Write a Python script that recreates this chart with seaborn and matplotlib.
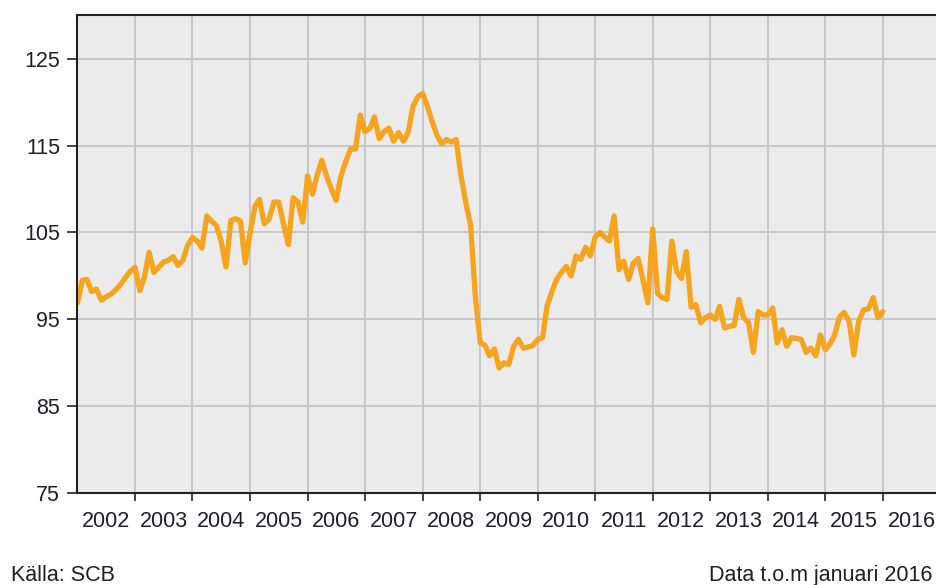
import pandas as pd
import numpy as np
import matplotlib
matplotlib.use("Agg")
import matplotlib.pyplot as plt
import matplotlib.dates as mdates
import seaborn as sns

# monthly index values (Jan 2002 - Jan 2016)
v2002 = [96.9, 99.5, 99.6, 98.2, 98.5, 97.2, 97.6, 97.9, 98.4, 99.0, 99.8, 100.5]
v2003 = [101.0, 98.3, 99.8, 102.7, 100.4, 101.0, 101.6, 101.8, 102.2, 101.2, 101.8, 103.5]
v2004 = [104.4, 104.0, 103.2, 106.9, 106.3, 105.8, 104.0, 101.0, 106.4, 106.6, 106.3, 101.5]
v2005 = [105.0, 108.0, 108.8, 106.0, 106.5, 108.5, 108.5, 106.0, 103.6, 109.0, 108.5, 106.2]
v2006 = [111.5, 109.4, 111.5, 113.3, 111.5, 110.0, 108.7, 111.5, 113.2, 114.6, 114.6, 118.5]
v2007 = [116.6, 117.0, 118.3, 115.8, 116.6, 117.0, 115.5, 116.5, 115.5, 116.5, 119.5, 120.6]
v2008 = [121.0, 119.5, 117.8, 116.2, 115.2, 115.7, 115.4, 115.7, 111.5, 108.5, 105.8, 97.6]
v2009 = [92.3, 92.0, 90.8, 91.6, 89.4, 90.0, 89.8, 91.9, 92.7, 91.7, 91.8, 92.0]
v2010 = [92.7, 92.9, 96.5, 98.2, 99.6, 100.4, 101.1, 100.0, 102.3, 101.9, 103.3, 102.3]
v2011 = [104.5, 105.0, 104.5, 104.0, 106.9, 100.7, 101.7, 99.6, 101.5, 102.0, 99.5, 96.9]
v2012 = [105.4, 98.0, 97.5, 97.3, 104.0, 100.5, 99.7, 102.8, 96.4, 96.7, 94.6, 95.2]
v2013 = [95.5, 95.0, 96.5, 94.0, 94.2, 94.3, 97.3, 95.2, 94.6, 91.2, 95.9, 95.5]
v2014 = [95.5, 96.3, 92.3, 93.8, 91.9, 92.9, 92.8, 92.7, 91.2, 91.7, 90.8, 93.2]
v2015 = [91.5, 92.2, 93.2, 95.3, 95.8, 94.8, 90.9, 94.8, 96.1, 96.2, 97.5, 95.2]
v2016 = [95.9]

values = (v2002 + v2003 + v2004 + v2005 + v2006 + v2007 + v2008 + v2009
          + v2010 + v2011 + v2012 + v2013 + v2014 + v2015 + v2016)
dates = pd.date_range("2002-01-01", periods=len(values), freq="MS")
df = pd.DataFrame({"datum": dates, "index": values})

years = list(range(2002, 2017))
yticks = [75, 85, 95, 105, 115, 125]

sns.set_style("ticks", {"axes.facecolor": "#ebebeb"})
plt.rcParams["font.family"] = ["Liberation Sans", "DejaVu Sans"]

txt = "#1e1e28"

fig = plt.figure(figsize=(9.37, 5.85), dpi=100)
ax = fig.add_axes([0.0827, 0.157, 0.921, 0.817])

sns.lineplot(data=df, x="datum", y="index", ax=ax, color="#f5a41e", linewidth=3.8)

ax.set_xlim(pd.Timestamp("2002-01-01"), pd.Timestamp("2017-01-01"))
ax.set_ylim(75, 130)
ax.set_yticks(yticks)
ax.set_yticklabels([str(t) for t in yticks])

# year boundaries get tick marks and grid, labels sit mid-year
ax.set_xticks([pd.Timestamp(f"{y}-01-01") for y in years[1:]])
ax.set_xticklabels([])
ax.set_xticks([pd.Timestamp(f"{y}-07-01") for y in years], minor=True)
ax.set_xticklabels([str(y) for y in years], minor=True)

ax.tick_params(axis="x", which="major", length=5.5, width=1.2, color="#222222")
ax.tick_params(axis="x", which="minor", length=0, pad=12.5, labelsize=15.5, labelcolor=txt)
ax.tick_params(axis="y", length=7, width=1.2, color="#222222", pad=5.5, labelsize=15.5, labelcolor=txt)

ax.grid(True, which="major", color="#c6c6c6", linewidth=1.4)
ax.set_axisbelow(True)

for side in ["left", "bottom", "top"]:
    ax.spines[side].set_color("#222222")
    ax.spines[side].set_linewidth(1.5)
ax.spines["right"].set_visible(False)

ax.set_xlabel("")
ax.set_ylabel("")

fig.text(0.012, 0.006, "Källa: SCB", fontsize=15.5, color=txt, ha="left", va="baseline")
fig.text(0.995, 0.006, "Data t.o.m januari 2016", fontsize=15.5, color=txt, ha="right", va="baseline")

fig.savefig("out.png", dpi=100)
